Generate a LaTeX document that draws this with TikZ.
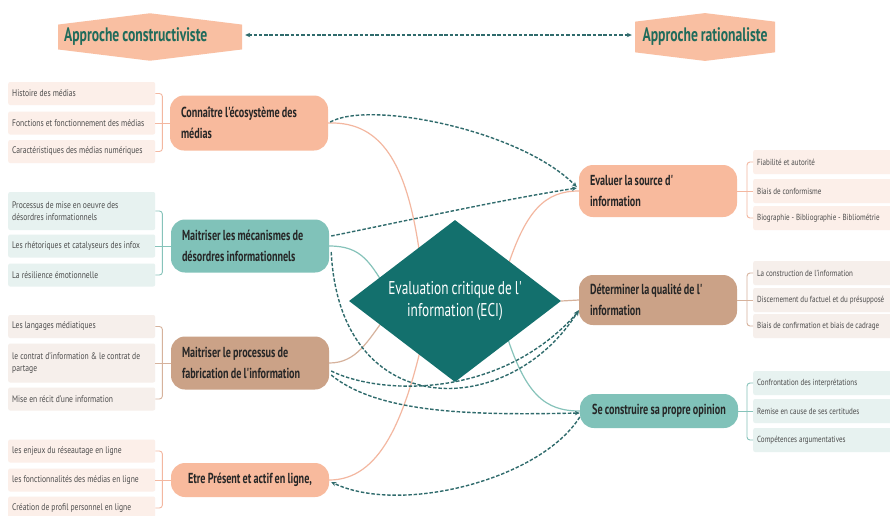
\documentclass[tikz,border=0pt]{standalone}
\usepackage{fontspec}
\setmainfont{PT Sans}[FakeStretch=0.8]
\newfontfamily\condfont{PT Sans}[FakeStretch=0.7,WordSpace=0.85]
\newfontfamily\diafont{PT Sans}[FakeStretch=0.72,WordSpace=0.85]
\usetikzlibrary{shapes.geometric,shapes.symbols,arrows.meta,calc}
\pgfdeclarelayer{bg}
\pgfsetlayers{bg,main}
\definecolor{cSalmon}{HTML}{F8BA9D}
\definecolor{cTeal}{HTML}{80C2B9}
\definecolor{cTan}{HTML}{CBA287}
\definecolor{cDia}{HTML}{13706D}
\definecolor{cDash}{HTML}{2F6B6C}
\definecolor{cLeafP}{HTML}{FCEFE9}
\definecolor{cLeafT}{HTML}{E7F2F0}
\definecolor{cLeafB}{HTML}{F6EFEB}
\definecolor{cHead}{HTML}{F9BFA2}
\definecolor{cHeadTxt}{HTML}{1F6B5B}
\definecolor{cLineS}{HTML}{F3B7A0}
\definecolor{cLineT}{HTML}{86C3BA}
\definecolor{cLineB}{HTML}{D6B29C}
\tikzset{
  mainbox/.style={rectangle, rounded corners=14, inner xsep=11, text width=136, align=flush left,
    font=\condfont\bfseries\fontsize{14.5}{21}\selectfont, text=black!85},
  mainctr/.style={mainbox, inner xsep=4, text width=150, align=flush center},
  leafbox/.style={rectangle, rounded corners=2, anchor=west, minimum width=147, inner xsep=4,
    text width=139, align=flush left, font=\fontsize{9.5}{12.5}\selectfont, text=black!70},
  rleaf/.style={leafbox, minimum width=150, text width=145, font=\fontsize{8.8}{11}\selectfont},
  headbox/.style={signal, signal to=north and south, signal pointer angle=166, fill=cHead,
    font=\condfont\bfseries\fontsize{19.5}{22}\selectfont, text=cHeadTxt, inner sep=0},
  rel/.style={draw=cDash, dash pattern=on 3.5pt off 1.8pt, line width=1.4pt,
    -{Stealth[length=5pt,width=4.5pt]}},
  treeS/.style={draw=cLineS, line width=1.2pt},
  treeT/.style={draw=cLineT, line width=1.2pt},
  treeB/.style={draw=cLineB, line width=1.2pt},
  brS/.style={draw=cLineS, line width=0.9pt},
  brT/.style={draw=cLineT, line width=0.9pt},
  brB/.style={draw=cLineB, line width=0.9pt},
}
\begin{document}
\begin{tikzpicture}[x=1pt,y=-1pt]
\useasboundingbox (0,0) rectangle (890,515);
\clip (0,0) rectangle (890,515);

% headers
\node[headbox, minimum width=184, minimum height=46, text width=172, align=flush left] (h1) at (150,37) {Approche constructiviste};
\node[headbox, minimum width=140, minimum height=46, align=center] (h2) at (705,37) {Approche rationaliste};
\draw[rel, {Stealth[length=5pt,width=4.5pt]}-{Stealth[length=5pt,width=4.5pt]}] ($(h1.east)+(3,-2)$) -- ($(h2.west)+(-3,-2)$);

% central diamond
\node[diamond, fill=cDia, minimum width=212, minimum height=162, inner sep=0, aspect=1.3,
  text=white, font=\diafont\fontsize{18.5}{22}\selectfont, align=center] (ECI) at (455,301)
  {Evaluation critique de l'\\information (ECI)};

% main nodes left
\node[mainbox, fill=cSalmon, minimum height=55] (n1) at (249,123) {Connaître l'écosystème des\\médias};
\node[mainbox, fill=cTeal, minimum height=53] (n2) at (250,246) {Maitriser les mécanismes de\\désordres informationnels};
\node[mainbox, fill=cTan, minimum height=53] (n3) at (250,363) {Maitriser le processus de\\fabrication de l'information};
\node[mainctr, fill=cSalmon, minimum height=34] (n4) at (250,480) {Etre Présent et actif en ligne,};
% main nodes right
\node[mainbox, fill=cSalmon, minimum height=52] (n5) at (658,191) {Evaluer la source d'\\information};
\node[mainbox, fill=cTan, minimum height=50] (n6) at (658,300) {Déterminer la qualité de l'\\information};
\node[mainctr, fill=cTeal, minimum height=34] (n7) at (659,411) {Se construire sa propre opinion};

% left leaves
\node[leafbox, fill=cLeafP, minimum height=23] (l11) at (8,93.5) {Histoire des médias};
\node[leafbox, fill=cLeafP, minimum height=23] (l12) at (8,123) {Fonctions et fonctionnement des médias};
\node[leafbox, fill=cLeafP, minimum height=23] (l13) at (8,151.5) {Caractéristiques des médias numériques};
\node[leafbox, fill=cLeafT, minimum height=38] (l21) at (8,211) {Processus de mise en oeuvre des\\désordres informationnels};
\node[leafbox, fill=cLeafT, minimum height=23] (l22) at (8,246) {Les rhétoriques et catalyseurs des infox};
\node[leafbox, fill=cLeafT, minimum height=23] (l23) at (8,275) {La résilience émotionnelle};
\node[leafbox, fill=cLeafB, minimum height=23] (l31) at (8,326.5) {Les langages médiatiques};
\node[leafbox, fill=cLeafB, minimum height=39] (l32) at (8,363) {le contrat d'information \& le contrat de\\partage};
\node[leafbox, fill=cLeafB, minimum height=23] (l33) at (8,399) {Mise en récit d'une information};
\node[leafbox, fill=cLeafP, minimum height=23] (l41) at (8,451) {les enjeux du réseautage en ligne};
\node[leafbox, fill=cLeafP, minimum height=23] (l42) at (8,480) {les fonctionnalités des médias en ligne};
\node[leafbox, fill=cLeafP, minimum height=23] (l43) at (8,508) {Création de profil personnel en ligne};
% right leaves
\node[rleaf, fill=cLeafP, minimum height=24] (r51) at (753,162) {Fiabilité et autorité};
\node[rleaf, fill=cLeafP, minimum height=24] (r52) at (753,191) {Biais de conformisme};
\node[rleaf, fill=cLeafP, minimum height=24] (r53) at (753,218) {Biographie - Bibliographie - Bibliométrie};
\node[rleaf, fill=cLeafB, minimum height=24] (r61) at (753,273) {La construction de l'information};
\node[rleaf, fill=cLeafB, minimum height=24] (r62) at (753,300) {Discernement du factuel et du présupposé};
\node[rleaf, fill=cLeafB, minimum height=24] (r63) at (753,326) {Biais de confirmation et biais de cadrage};
\node[rleaf, fill=cLeafT, minimum height=24] (r71) at (753,383) {Confrontation des interprétations};
\node[rleaf, fill=cLeafT, minimum height=24] (r72) at (753,411) {Remise en cause de ses certitudes};
\node[rleaf, fill=cLeafT, minimum height=24] (r73) at (753,440) {Compétences argumentatives};

% brackets
\draw[brS, rounded corners=3] (l11.east) -| ($(l12.east)+(7,0)$) |- (l13.east);
\draw[brS] (l12.east) -- (n1.west);
\draw[brT, rounded corners=3] (l21.east) -| ($(l22.east)+(7,0)$) |- (l23.east);
\draw[brT] (l22.east) -- (n2.west);
\draw[brB, rounded corners=3] (l31.east) -| ($(l32.east)+(7,0)$) |- (l33.east);
\draw[brB] (l32.east) -- (n3.west);
\draw[brS, rounded corners=3] (l41.east) -| ($(l42.east)+(7,0)$) |- (l43.east);
\draw[brS] (l42.east) -- (n4.west);
\draw[brS, rounded corners=3] (r51.west) -| ($(r52.west)+(-6,0)$) |- (r53.west);
\draw[brS] (n5.east) -- (r52.west);
\draw[brB, rounded corners=3] (r61.west) -| ($(r62.west)+(-6,0)$) |- (r63.west);
\draw[brB] (n6.east) -- (r62.west);
\draw[brT, rounded corners=3] (r71.west) -| ($(r72.west)+(-6,0)$) |- (r73.west);
\draw[brT] (n7.east) -- (r72.west);

% tree edges (behind)
\begin{pgfonlayer}{bg}
\fill[white] (0,0) rectangle (890,515);
\draw[treeS] (n1.east) .. controls (385,121) and (408,170) .. ($(ECI.center)+(-35,-45)$);
\draw[treeT] (n2.east) .. controls (362,246) and (370,262) .. ($(ECI.center)+(-65,-6)$);
\draw[treeB] (n3.east) .. controls (357,363) and (368,340) .. ($(ECI.center)+(-70,17)$);
\draw[treeS] (n4.east) .. controls (380,480) and (405,420) .. ($(ECI.center)+(-30,29)$);
\draw[treeS] (n5.west) .. controls (545,191) and (525,210) .. ($(ECI.center)+(50,-26)$);
\draw[treeB] (ECI.east) -- (n6.west);
\draw[treeT] (n7.west) .. controls (545,411) and (525,395) .. ($(ECI.center)+(50,29)$);
\end{pgfonlayer}

% relations (dashed)
\draw[rel] ($(n1.east)+(2,-1)$) .. controls (370,100) and (520,130) .. ($(n5.west)+(-2,-4)$);
\draw[rel] ($(n2.east)+(2,-10)$) .. controls (410,220) and (500,200) .. ($(n5.west)+(-2,-3)$);
\draw[rel] ($(n2.east)+(2,6)$) .. controls (340,425) and (510,420) .. ($(n6.west)+(0,10)$);
\draw[rel] ($(n3.east)+(2,8)$) .. controls (380,395) and (500,400) .. ($(n6.west)+(0,11)$);
\draw[rel] ($(n3.east)+(2,12)$) .. controls (380,415) and (480,415) .. ($(n7.west)+(0,2)$);
\draw[rel] ($(n7.west)+(0,6)$) .. controls (540,480) and (400,515) .. ($(n4.east)+(2,2)$);
\end{tikzpicture}
\end{document}
